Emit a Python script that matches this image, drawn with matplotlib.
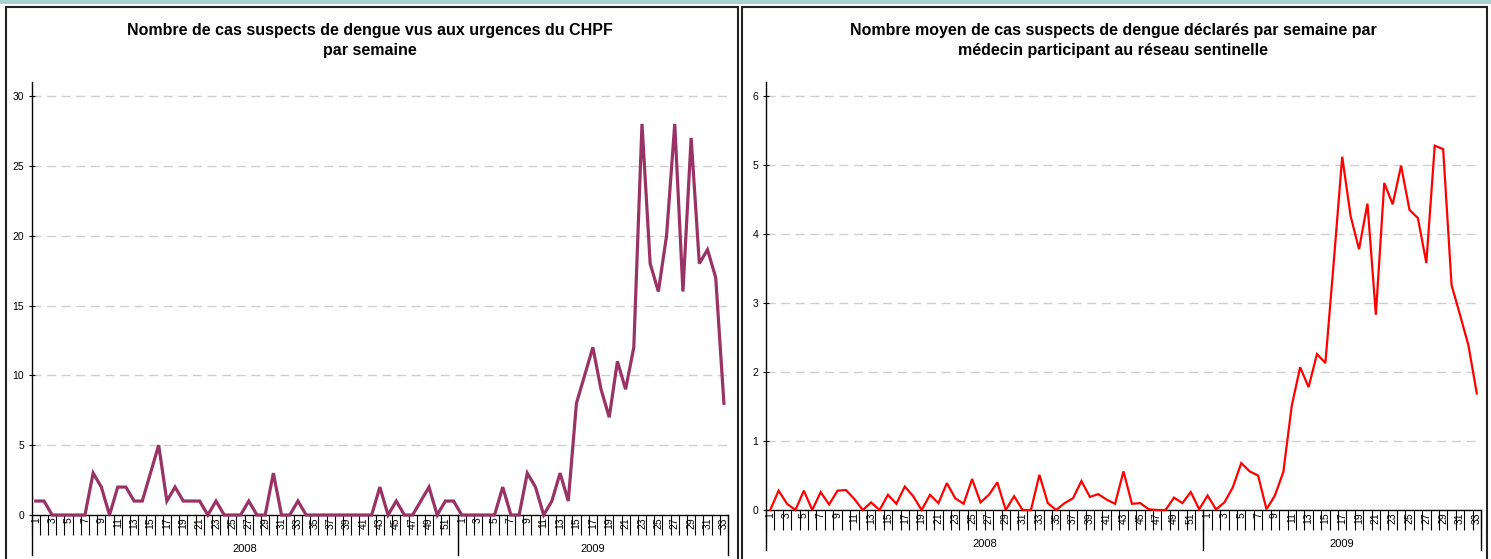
import matplotlib
matplotlib.use("Agg")
import matplotlib.pyplot as plt
from matplotlib.patches import Rectangle
from matplotlib.lines import Line2D
import numpy as np

plt.rcParams['font.family'] = ['Liberation Sans', 'DejaVu Sans']

# ---------------- data ----------------
weeks_2008 = list(range(1, 53))
weeks_2009 = list(range(1, 34))
years = ["2008", "2009"]

chpf_2008 = [1, 1, 0, 0, 0, 0, 0, 3, 2, 0, 2, 2, 1, 1, 3, 5, 1, 2, 1, 1,
             1, 0, 1, 0, 0, 0, 1, 0, 0, 3, 0, 0, 1, 0, 0, 0, 0, 0, 0, 0,
             0, 0, 2, 0, 1, 0, 0, 1, 2, 0, 1, 1]
chpf_2009 = [0, 0, 0, 0, 0, 2, 0, 0, 3, 2, 0, 1, 3, 1, 8, 10, 12, 9, 7, 11,
             9, 12, 28, 18, 16, 20, 28, 16, 27, 18, 19, 17, 8]

senti_2008 = [0, 0.28, 0.09, 0, 0.28, 0, 0.26, 0.08, 0.28, 0.29, 0.16, 0, 0.11, 0,
              0.22, 0.09, 0.34, 0.2, 0, 0.22, 0.1, 0.39, 0.17, 0.09, 0.45, 0.11,
              0.22, 0.4, 0, 0.2, 0, 0, 0.51, 0.1, 0, 0.1, 0.17, 0.42, 0.19, 0.23,
              0.15, 0.09, 0.56, 0.09, 0.1, 0.01, 0, 0, 0.18, 0.1, 0.26, 0.01]
senti_2009 = [0.21, 0.01, 0.11, 0.33, 0.68, 0.56, 0.5, 0.01, 0.21, 0.55, 1.51,
              2.07, 1.78, 2.26, 2.13, 3.6, 5.12, 4.26, 3.78, 4.44, 2.83, 4.74,
              4.43, 4.99, 4.35, 4.23, 3.58, 5.28, 5.23, 3.26, 2.83, 2.39, 1.69]

title_left = "Nombre de cas suspects de dengue vus aux urgences du CHPF\npar semaine"
title_right = ("Nombre moyen de cas suspects de dengue déclarés par semaine par\n"
               "médecin participant au réseau sentinelle")

W, H = 1491, 559
fig = plt.figure(figsize=(W / 100, H / 100), dpi=100)

def fbox(x0, x1, ytop, ybot):
    return [x0 / W, 1 - ybot / H, (x1 - x0) / W, (ybot - ytop) / H]

# teal strip at top
fig.add_artist(Rectangle((0, 1 - 4 / H), 1, 4 / H, transform=fig.transFigure,
                         facecolor="#a6d3d0", edgecolor="none"))
# panel borders
for (x0, x1) in [(6, 738), (742, 1487)]:
    fig.add_artist(Rectangle((x0 / W, -0.05), (x1 - x0) / W, 1 - 7 / H + 0.05,
                             transform=fig.transFigure, facecolor="none",
                             edgecolor="#222222", linewidth=1.5))

n2008 = len(weeks_2008)
labels = [str(w) for w in weeks_2008] + [str(w) for w in weeks_2009]
n = len(labels)
x = np.arange(n)


def make_panel(box, values, ymax, ystep, top, color, lw, title, title_x, ylabpad):
    x0, x1, ytop, ybot = box
    ax = fig.add_axes(fbox(x0, x1, ytop, ybot))
    hpx = ybot - ytop
    ax.set_xlim(-0.5, n - 0.5)
    ax.set_ylim(0, top)
    ax.plot(x, values, color=color, lw=lw, solid_joinstyle='miter', zorder=3, clip_on=False)
    # grid
    for v in np.arange(ystep, ymax + ystep / 2, ystep):
        ax.axhline(v, color="#cfcfcf", lw=1.0, dashes=(6.5, 4), zorder=1)
    ax.set_yticks(np.arange(0, ymax + ystep / 2, ystep))
    ax.set_yticklabels([f"{int(v)}" for v in np.arange(0, ymax + ystep / 2, ystep)])
    ax.tick_params(axis='y', direction='inout', length=5, width=0.8, labelsize=7.5,
                   pad=ylabpad, colors="#000000")
    # category ticks at boundaries, labels at centers
    ax.set_xticks(np.arange(-0.5, n, 1.0))
    ax.set_xticklabels([])
    ax.tick_params(axis='x', which='major', direction='out', length=14.4, width=0.8)
    odd = [i for i, l in enumerate(labels) if int(l) % 2 == 1]
    ax.set_xticks(odd, minor=True)
    ax.set_xticklabels([labels[i] for i in odd], minor=True, rotation=90)
    ax.tick_params(axis='x', which='minor', length=0, labelsize=7.5, pad=1.5)
    for s in ['top', 'right', 'left']:
        ax.spines[s].set_visible(False)
    ax.spines['bottom'].set_linewidth(1.0)
    # group dividers (also left axis line)
    tr = ax.get_xaxis_transform()
    ext = 40 / hpx
    ax.add_line(Line2D([-0.5, -0.5], [-ext, 1], transform=tr, color="black",
                       lw=1.0, clip_on=False))
    for b in [n2008 - 0.5, n - 0.5]:
        ax.add_line(Line2D([b, b], [-ext, 0], transform=tr, color="black",
                           lw=1.0, clip_on=False))
    # year labels
    ax.text((n2008 - 1) / 2, -34 / hpx, years[0], transform=tr, ha='center',
            va='center', fontsize=8)
    ax.text((n2008 + n - 1) / 2, -34 / hpx, years[1], transform=tr, ha='center',
            va='center', fontsize=8)
    fig.text(title_x / W, 1 - 40.5 / H, title, ha='center', va='center',
             fontsize=11.5, fontweight='bold', linespacing=1.45)
    return ax


chpf = chpf_2008 + chpf_2009
senti = senti_2008 + senti_2009

make_panel((31.7, 728, 82, 515), chpf, 30, 5, 30 * 433 / 419, "#993366", 2.3,
           title_left, 370, 3)
make_panel((766, 1481, 82, 510), senti, 6, 1, 6 * 428 / 414, "#ff0000", 1.6,
           title_right, 1113, 3)

fig.savefig("out.png", dpi=100)
